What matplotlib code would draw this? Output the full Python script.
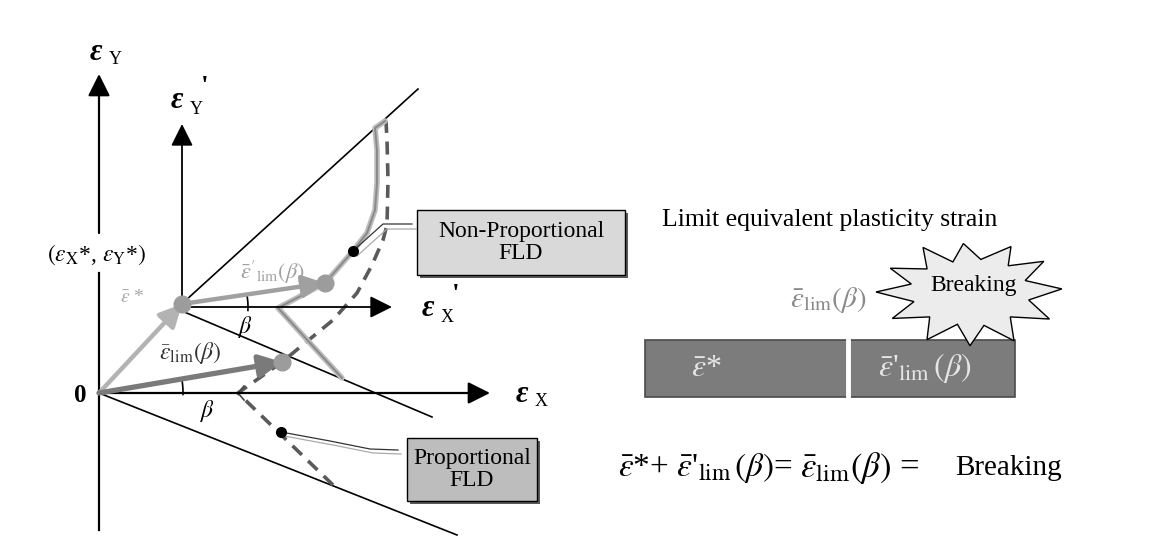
import matplotlib.pyplot as plt
import numpy as np
from matplotlib.patches import Rectangle, Polygon

plt.rcParams['font.family'] = ['Liberation Serif', 'DejaVu Serif']
plt.rcParams['mathtext.fontset'] = 'stix'

# key points of the diagram, in picture pixels (x right, y down)
origin = (99, 393)
pre_point = (182, 304)          # (eps_x*, eps_y*)
lim_nonprop = (325, 283)
lim_prop = (282, 362)

# axes: start, tip
ax_y = [(99, 530), (99, 74)]
ax_x = [(99, 393), (490, 393)]
ax_y2 = [(182, 304), (182, 124)]
ax_x2 = [(182, 307), (392, 307)]

# straight guide lines
diag_line = [(185, 301), (418, 89)]
low_line_p = [(182, 311), (432, 417)]
low_line_o = [(99, 393), (457, 535)]

# forming limit curves
prop_fld_x = [333, 238, 282, 333, 357, 372, 383, 387, 388, 387, 386]
prop_fld_y = [485, 393, 362, 320, 293, 265, 240, 225, 180, 140, 121]
nonprop_fld_x = [342, 278, 325, 353, 367, 375, 377, 377, 375, 385]
nonprop_fld_y = [378, 308, 283, 251, 233, 210, 183, 150, 128, 121]

black_dots = [(353, 251), (281, 432)]

# leader lines to the boxes
lead_np_x = [353, 383, 412]
lead_np_y = [251, 224, 224]
lead_p_x = [281, 330, 370, 398]
lead_p_y = [432, 441, 449, 450]

# starburst outline (angle deg, radius) around its centre
burst_ang = [3, 18, 33, 47, 60, 78, 95, 110, 124, 140, 155, 168, 180, 195, 208, 224,
             240, 256, 270, 285, 300, 316, 332, 348]
burst_rad = [92, 58, 88, 56, 82, 52, 76, 50, 84, 56, 88, 60, 94, 58, 88, 56,
             86, 52, 84, 54, 88, 56, 90, 60]

fig = plt.figure(figsize=(11.65, 5.45), dpi=100)
ax = fig.add_axes([0, 0, 1, 1])
ax.set_xlim(0, 1165)
ax.set_ylim(545, 0)
ax.axis('off')


def arrow(p0, p1, color, lw, hl=0.9, hw=0.45, ms=15, z=3):
    ax.annotate('', xy=p1, xytext=p0,
                arrowprops=dict(arrowstyle='-|>,head_length=%s,head_width=%s' % (hl, hw),
                                color=color, lw=lw, mutation_scale=ms,
                                shrinkA=0, shrinkB=0), zorder=z)


# axes (eps_y has a gap for its label)
ax.plot([99, 99], [530, 273], color='black', lw=1.6)
arrow((99, 233), ax_y[1], 'black', 1.6)
arrow(*ax_x, 'black', 1.6)
arrow(*ax_y2, 'black', 1.3)
arrow(*ax_x2, 'black', 1.3)

for ln in (diag_line, low_line_p, low_line_o):
    ax.plot([ln[0][0], ln[1][0]], [ln[0][1], ln[1][1]], color='black', lw=1.2)

# limit curves
ax.plot(prop_fld_x, prop_fld_y, color='#5a5a5a', lw=2.6, ls=(0, (3.6, 2.4)), zorder=2)
ax.plot([244, 238, 244], [386, 393, 400], color='#444', lw=1.2)
ax.plot(nonprop_fld_x, nonprop_fld_y, color='#bdbdbd', lw=4.0, zorder=2,
        solid_capstyle='round')
ax.plot(nonprop_fld_x, nonprop_fld_y, color='#8a8a8a', lw=1.4, zorder=2)

# strain path arrows
arrow(origin, pre_point, '#b3b3b3', 3.2, z=4)
arrow(pre_point, lim_nonprop, '#a0a0a0', 3.2, z=4)
arrow(origin, lim_prop, '#7a7a7a', 3.8, z=4)

for p in (pre_point, lim_nonprop, lim_prop):
    ax.plot(*p, 'o', ms=12, color='#9c9c9c', zorder=5)
for p in black_dots:
    ax.plot(*p, 'o', ms=7, color='black', zorder=6)

# angle arcs
t = np.radians(np.linspace(-3, 9, 20))
ax.plot(pre_point[0] + 66 * np.cos(t), pre_point[1] + 3 - 66 * np.sin(t), color='black', lw=1.2)
t = np.radians(np.linspace(-1, 10, 20))
ax.plot(origin[0] + 84 * np.cos(t), origin[1] - 84 * np.sin(t), color='black', lw=1.2)

# leader lines
ax.plot(lead_np_x, lead_np_y, color='#333', lw=0.9)
ax.plot(np.array(lead_np_x) + 4, np.array(lead_np_y) + 5, color='#aaa', lw=0.9)
ax.plot(lead_p_x, lead_p_y, color='#333', lw=0.9)
ax.plot(np.array(lead_p_x) + 3, np.array(lead_p_y) + 4, color='#aaa', lw=0.9)


# axis labels
def eps_label(x, y, sub, prime=False):
    ax.text(x, y, 'ε', fontsize=22, fontweight='bold', fontstyle='italic',
            ha='center', va='center')
    ax.text(x + 19, y + 8, sub, fontsize=13, ha='center', va='center')
    if prime:
        ax.text(x + 28, y - 14, "'", fontsize=20, fontweight='bold', ha='center', va='center')


eps_label(96, 52, 'Y')
eps_label(177, 101, 'Y', prime=True)
eps_label(428, 309, 'X', prime=True)
eps_label(522, 394, 'X')
ax.text(80, 396, '0', fontsize=18, fontweight='bold', ha='center', va='center')

ax.text(97, 255, r'$(\varepsilon_{\rm X}$*, $\varepsilon_{\rm Y}$*$)$', fontsize=17,
        ha='center', va='center')
ax.text(132, 297, r'$\bar{\varepsilon}$ *', fontsize=14, color='#a8a8a8', ha='center', va='center')
ax.text(272, 272, r"$\bar{\varepsilon}'_{\rm lim}(\beta)$", fontsize=16, color='#a0a0a0',
        ha='center', va='center')
ax.text(190, 353, r'$\bar{\varepsilon}_{\rm lim}(\beta)$', fontsize=17, color='#333',
        ha='center', va='center')
ax.text(246, 327, r'$\beta$', fontsize=17, ha='center', va='center')
ax.text(208, 411, r'$\beta$', fontsize=17, ha='center', va='center')


# boxes
def label_box(x0, y0, w, h, fc, txt):
    ax.add_patch(Rectangle((x0 + 3, y0 + 3), w, h, fc='#5a5a5a', ec='none', zorder=6))
    ax.add_patch(Rectangle((x0, y0), w, h, fc=fc, ec='black', lw=1, zorder=7))
    ax.text(x0 + w / 2, y0 + h / 2, txt, fontsize=17, ha='center', va='center',
            linespacing=1.05, zorder=8)


label_box(417, 210, 208, 65, '#d9d9d9', 'Non-Proportional\nFLD')
label_box(407, 438, 130, 63, '#bdbdbd', 'Proportional\nFLD')

# right part
ax.text(662, 220, 'Limit equivalent plasticity strain', fontsize=18.5, ha='left', va='center')
ax.text(828, 300, r'$\bar{\varepsilon}_{\rm lim}(\beta)$', fontsize=21, color='#8a8a8a',
        ha='center', va='center')

ax.add_patch(Rectangle((645, 340), 370, 57, fc='#7c7c7c', ec='#4a4a4a', lw=1.2, zorder=3))
ax.plot([848, 848], [341, 396], color='white', lw=3.5, zorder=4)
ax.text(706, 368, r'$\bar{\varepsilon}$*', fontsize=23, color='#e6e6e6', ha='center',
        va='center', zorder=5)
ax.text(925, 368, r"$\bar{\varepsilon}$'$_{\rm lim}\,(\beta)$", fontsize=23, color='#e6e6e6',
        ha='center', va='center', zorder=5)

bc = (970, 292)
a = np.radians(burst_ang)
r = np.array(burst_rad, dtype=float)
bx = bc[0] + r * np.cos(a)
by = bc[1] - 0.64 * r * np.sin(a)
ax.add_patch(Polygon(np.c_[bx, by], closed=True, fc='#ececec', ec='black', lw=1, zorder=6))
ax.text(bc[0] + 4, bc[1] - 6, 'Breaking', fontsize=17, ha='center', va='center', zorder=7)

ax.text(618, 468, r"$\bar{\varepsilon}$*+ $\bar{\varepsilon}$'$_{\rm lim}\,(\beta)$=",
        fontsize=24, ha='left', va='center')
ax.text(800, 468, r"$\bar{\varepsilon}_{\rm lim}(\beta)$ =", fontsize=25, ha='left', va='center')
ax.text(955, 468, 'Breaking', fontsize=21, ha='left', va='center')

fig.savefig('out.png', dpi=100)
